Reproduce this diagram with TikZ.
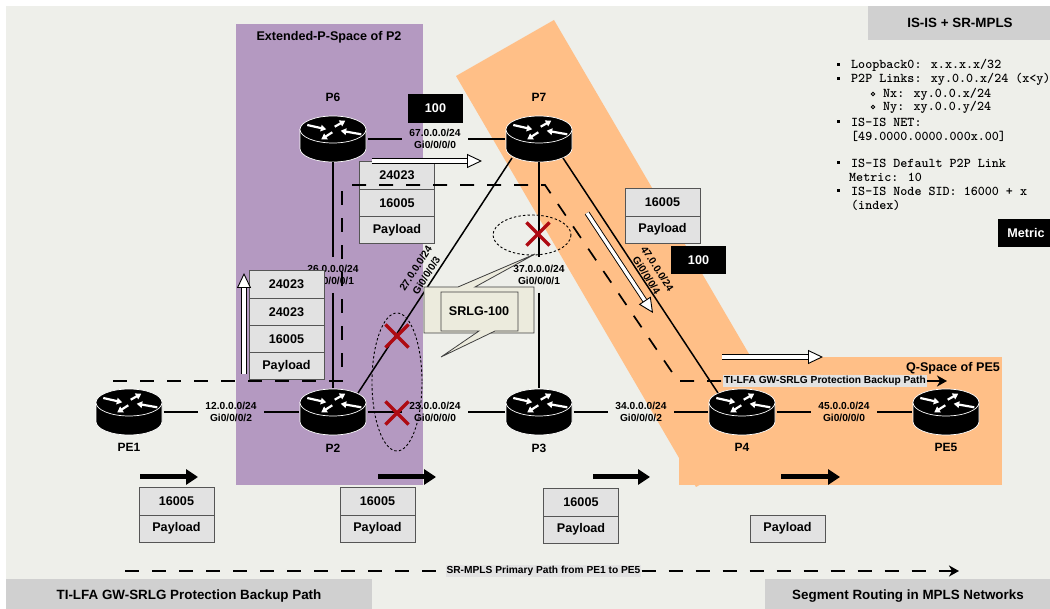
\documentclass[tikz,border=0pt]{standalone}
\usepackage{fontspec}
\setmainfont{Liberation Sans}
\usepackage{tikz}
\usetikzlibrary{positioning,arrows.meta,calc,shapes.misc}
\definecolor{canvas}{HTML}{EEEFEA}
\definecolor{pspace}{HTML}{B499C1}
\definecolor{qspace}{HTML}{FFBF87}
\definecolor{stackfill}{HTML}{E2E2E2}
\definecolor{stackline}{HTML}{555555}
\definecolor{barfill}{HTML}{D0D0D0}
\definecolor{calloutfill}{HTML}{ECEBDD}
\definecolor{failred}{HTML}{AE0A12}
\tikzset{
  router/.style={inner sep=0pt,outer sep=0pt,minimum width=69pt,minimum height=47pt,path picture={
    \begin{scope}[shift={(path picture bounding box.center)}]
      \filldraw[fill=black,draw=white,line width=.7pt] (-33,-9.5) -- (-33,9.5)
        arc[start angle=180,end angle=0,x radius=33,y radius=13.5] -- (33,-9.5) -- cycle;
      \filldraw[fill=black,draw=white,line width=.7pt] (0,-9.5) ellipse [x radius=33,y radius=13.5];
      \foreach \ax/\ay/\bx/\by in {-25.7/-14/-6.7/-9.7,1.7/-12.3/12.3/-18.3,-0.7/-6.7/-11.7/0.3,28.3/-4.7/7.7/-8.3} {
        \draw[white,line width=2.2pt,-{Triangle[length=5.5pt,width=6.5pt]}] (\ax,\ay) -- (\bx,\by);
      }
    \end{scope}}},
  hostname/.style={font=\fontsize{12}{14}\selectfont\bfseries,inner sep=0pt},
  linklabel/.style={font=\fontsize{10.2}{12.8}\selectfont\bfseries,align=center,inner sep=0pt,outer sep=0pt,minimum width=66pt,minimum height=36pt},
  tiltlabel/.style={font=\fontsize{10.2}{12.8}\selectfont\bfseries,align=center,inner sep=0pt},
  link/.style={black,line width=1.5pt},
  uplink/.style={black,line width=2.1pt},
  stackbox/.style={draw=stackline,fill=stackfill,line width=.8pt,inner sep=0pt,outer sep=0pt,minimum width=75pt,minimum height=27.2pt,font=\fontsize{12.6}{15}\selectfont\bfseries},
  metricbox/.style={fill=black,text=white,inner sep=0pt,font=\fontsize{12.6}{15}\selectfont\bfseries},
  titlebar/.style={fill=barfill,inner sep=0pt,font=\fontsize{13.4}{16}\selectfont\bfseries},
  pathtag/.style={fill=stackfill,inner sep=1pt,font=\fontsize{10.2}{12}\selectfont\bfseries},
  areatitle/.style={inner sep=0pt,font=\fontsize{12.6}{15}\selectfont\bfseries},
  dashline/.style={black,line width=1.7pt,dash pattern=on 14pt off 13pt},
  pathtip/.style={-{Stealth[length=10pt,width=11pt,inset=3pt]}},
  flowblack/.style={black,line width=5pt,-{Triangle[length=12pt,width=15pt]}},
  flowwhite/.style={double=white,double distance=3.4pt,draw=black,line width=.9pt,-{Triangle[length=15pt,width=14pt,fill=white,line width=.9pt]}},
  redx/.style={cross out,draw=failred,line width=3.2pt,minimum size=20pt,inner sep=0pt},
  srlgring/.style={black,line width=.9pt,dash pattern=on 2.4pt off 2.2pt},
  noteline/.style={anchor=west,inner sep=0pt,font=\fontsize{13.4}{15}\selectfont\ttfamily\bfseries}
}
\begin{document}
\begin{tikzpicture}[x=1pt,y=-1pt]
  \useasboundingbox (0,0) rectangle (1050,609);
  % areas
  \fill[canvas] (6,6) rectangle (1050,609);
  \fill[pspace] (236,24) rectangle (423,485);
  \fill[qspace] (456,76) -- (554,20) -- (794,431) -- (696,487) -- cycle;
  \fill[qspace] (679,357) rectangle (1002,485);
  \node[areatitle] (ptitle) at (329,37.5) {Extended-P-Space of P2};
  \node[areatitle] (qtitle) at (953,368) {Q-Space of PE5};
  % bars
  \fill[barfill] (868,6) rectangle (1050,40);
  \fill[barfill] (6,579) rectangle (372,609);
  \fill[barfill] (765,579) rectangle (1050,609);
  \node[titlebar] (bartop) at (960,23) {IS-IS + SR-MPLS};
  \node[titlebar] (barleft) at (189,596) {TI-LFA GW-SRLG Protection Backup Path};
  \node[titlebar] (barright) at (908,596) {Segment Routing in MPLS Networks};
  % routers
  \foreach \n/\x/\y in {p6/333/139,p7/539/139,pe1/129/412,p2/333/412,p3/539/412,p4/742/412,pe5/946/412} {
    \node[router] (\n) at (\x,\y) {};
  }
  \foreach \n/\t in {p6/P6,p7/P7} {
    \node[hostname,above=14pt of \n] (\n name) {\t};
  }
  \foreach \n/\t in {pe1/PE1,p2/P2,p3/P3,p4/P4,pe5/PE5} {
    \node[hostname,below=8pt of \n] (\n name) {\t};
  }
  % links
  \foreach \a/\b/\n/\x/\y/\s/\g in {pe1/p2/l12/231/412/12/2,p2/p3/l23/435/412/23/0,p3/p4/l34/641/412/34/2,p4/pe5/l45/844/412/45/0,p6/p7/l67/435/139/67/0} {
    \node[linklabel] (\n) at (\x,\y) {\s.0.0.0/24\\Gi0/0/0/\g};
    \draw[link] (\a) -- (\n);
    \draw[link] (\n) -- (\b);
  }
  \foreach \a/\b/\n/\x/\y/\s/\g in {p6/p2/l26/333/275/26/1,p7/p3/l37/539/275/37/1} {
    \node[linklabel] (\n) at (\x,\y) {\s.0.0.0/24\\Gi0/0/0/\g};
    \draw[uplink] (\a) -- (\n);
    \draw[uplink] (\n) -- (\b);
  }
  \draw[link] ($(p7)+(-27,19)$) -- ($(p2)+(25,-19)$);
  \draw[link] ($(p7)+(24,19)$) -- ($(p4)+(-24,-19)$);
  \node[tiltlabel,rotate=57] (l27) at (421,272) {27.0.0.0/24\\Gi0/0/0/3};
  \node[tiltlabel,rotate=-57] (l47) at (652,272) {47.0.0.0/24\\Gi0/0/0/4};
  % label stacks
  \node[stackbox] (top1) at (397,175.5) {24023};
  \node[stackbox,below=0pt of top1] (top2) {16005};
  \node[stackbox,below=0pt of top2] (top3) {Payload};
  \node[stackbox] (left1) at (286.5,284.5) {24023};
  \node[stackbox,below=0pt of left1] (left2) {24023};
  \node[stackbox,below=0pt of left2] (left3) {16005};
  \node[stackbox,below=0pt of left3] (left4) {Payload};
  \foreach \n/\x/\y in {right/662.5/202.5,pone/176.5/501.5,ptwo/377.5/501.5,pthree/581/502.5} {
    \node[stackbox] (\n1) at (\x,\y) {16005};
    \node[stackbox,below=0pt of \n1] (\n2) {Payload};
  }
  \node[stackbox] (pfour) at (787.5,528.5) {Payload};
  % metrics
  \node[metricbox,minimum width=55pt,minimum height=29pt] (m67) at (435.5,108.5) {100};
  \node[metricbox,minimum width=55pt,minimum height=28pt] (m47) at (698.5,260) {100};
  \fill[black] (998,219) rectangle (1050,247);
  \node[metricbox] (mkey) at (1026,233) {Metric};
  % shared risk callout
  \filldraw[fill=calloutfill,draw=black!75,line width=.8pt] (424,287) -- (458,287) -- (535,254) -- (475,287) -- (534,287) -- (534,333) -- (424,333) -- cycle;
  \filldraw[fill=calloutfill,draw=black!75,line width=.8pt] (441,292) -- (518,292) -- (518,331) -- (495,331) -- (441,357) -- (479,331) -- (441,331) -- cycle;
  \node[areatitle] (srlg) at (479,311) {SRLG-100};
  \draw[srlgring] (532,235) ellipse [x radius=39,y radius=20];
  \draw[srlgring] (397,382) ellipse [x radius=25,y radius=69];
  \node[redx] (xa) at (538,234) {};
  \node[redx] (xb) at (397,336) {};
  \node[redx] (xc) at (397,413) {};
  % paths
  \coordinate (bk1) at (113,381);
  \coordinate (bk2) at (342,381);
  \coordinate (bk3) at (342,188);
  \coordinate (bk4) at (352,185);
  \coordinate (bk5) at (545,185);
  \coordinate (bk6) at (678,381);
  \coordinate (bk7) at (947,381);
  \coordinate (pr1) at (125,571);
  \coordinate (pr2) at (959,571);
  \node[pathtag] (bktag) at (825,381) {TI-LFA GW-SRLG Protection Backup Path};
  \node[pathtag] (prtag) at (543.5,571) {SR-MPLS Primary Path from PE1 to PE5};
  \draw[dashline] (bk1) -- (bk2) -- (bk3);
  \draw[dashline] (bk4) -- (bk5) -- (bk6) -- (bktag);
  \draw[black,line width=1.7pt,pathtip] (bktag) -- (bk7);
  \draw[dashline] (pr1) -- (prtag);
  \draw[dashline,pathtip] (prtag) -- (pr2);
  % flow arrows
  \foreach \n/\ax/\ay/\bx/\by in {wa/372/161/482/161,wb/244/374/244/273,wc/587/213/653/313,wd/722/357/823/357} {
    \coordinate (\n s) at (\ax,\ay);
    \coordinate (\n e) at (\bx,\by);
    \draw[flowwhite] (\n s) -- (\n e);
  }
  \foreach \n/\ax/\bx in {ba/140/198,bb/378/436,bc/593/650,bd/781/840} {
    \coordinate (\n s) at (\ax,477);
    \coordinate (\n e) at (\bx,477);
    \draw[flowblack] (\n s) -- (\n e);
  }
  % addressing notes
  \foreach \y/\t in {65/{Loopback0: x.x.x.x/32},79/{P2P Links: xy.0.0.x/24 (x<y)},122/{IS-IS NET:},136/{[49.0000.0000.000x.00]},163/{IS-IS Default P2P Link},191/{IS-IS Node SID: 16000 + x},205/{(index)}} {
    \node[noteline] (note\y) at (851,\y) {\t};
  }
  \node[noteline] (note177) at (849,177) {Metric: 10};
  \node[noteline] (note94) at (883,94) {Nx: xy.0.0.x/24};
  \node[noteline] (note107) at (883,107) {Ny: xy.0.0.y/24};
  \foreach \y in {65,79,122,163,191} {
    \fill[black] (836.5,\y-1.5) rectangle (839.5,\y+1.5);
  }
  \foreach \y in {94,107} {
    \draw[black,line width=.9pt] (873,\y) circle [radius=1.8];
  }
\end{tikzpicture}
\end{document}
